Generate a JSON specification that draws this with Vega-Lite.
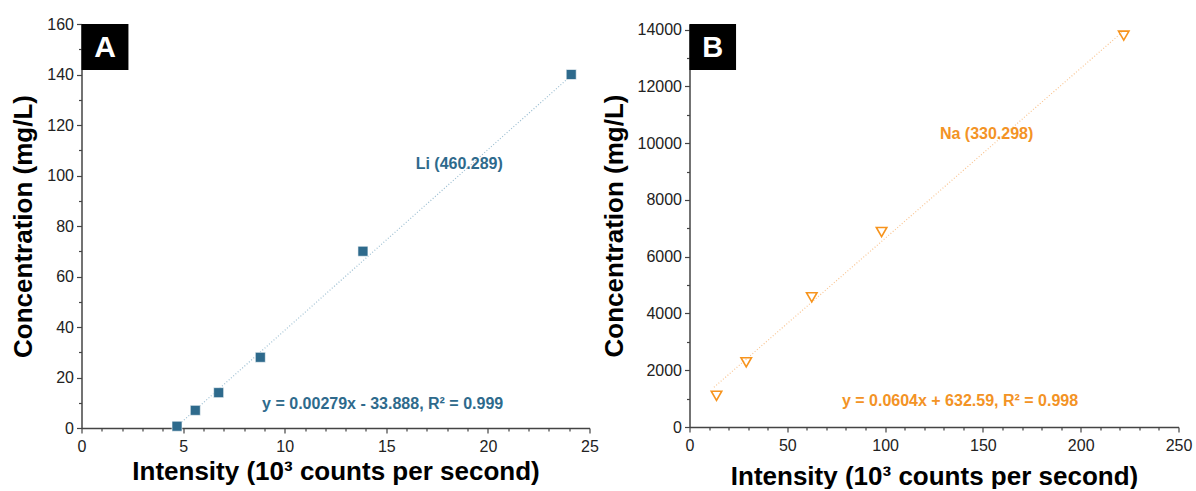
{
  "$schema": "https://vega.github.io/schema/vega-lite/v6.json",
  "background": "white",
  "padding": {"left": 10.5, "top": 16, "right": 0, "bottom": 0},
  "bounds": "flush",
  "spacing": 100,
  "datasets": {
    "pointsA": [{"x": 4.7, "y": 0.7}, {"x": 5.6, "y": 7}, {"x": 6.75, "y": 14}, {"x": 8.8, "y": 28}, {"x": 13.85, "y": 70}, {"x": 24.1, "y": 140}],
    "fitA": [{"x": 4.6, "y": 0}, {"x": 24.1, "y": 139.6}],
    "pointsB": [{"x": 13.8, "y": 1100}, {"x": 29, "y": 2280}, {"x": 62.5, "y": 4570}, {"x": 98.2, "y": 6870}, {"x": 222, "y": 13790}],
    "fitB": [{"x": 12.5, "y": 1400}, {"x": 221, "y": 13900}],
    "one": [{}]
  },
  "config": {
    "view": {"stroke": null},
    "axis": {
      "labelFont": "Liberation Sans", "labelFontSize": 16, "labelColor": "#222222",
      "titleFont": "Liberation Sans", "titleFontSize": 26, "titleFontWeight": "bold", "titleColor": "#000000",
      "domainColor": "#444444", "domainWidth": 1.5, "tickColor": "#444444", "tickWidth": 1.2, "grid": false
    }
  },
  "hconcat": [
    {
      "width": 508, "height": 404,
      "resolve": {"axis": {"x": "independent", "y": "independent"}},
      "layer": [
        {
          "data": {"name": "fitA"},
          "mark": {"type": "line", "color": "#9dbfd2", "strokeWidth": 1.2, "strokeDash": [1, 2]},
          "encoding": {
            "x": {"field": "x", "type": "quantitative", "scale": {"domain": [0, 25], "nice": false, "zero": false},
              "axis": {"orient": "bottom", "values": [0, 5, 10, 15, 20, 25], "format": "d", "tickSize": 5, "labelPadding": 5, "title": "Intensity (10³ counts per second)", "titlePadding": 4, "labelFlush": false}},
            "y": {"field": "y", "type": "quantitative", "scale": {"domain": [0, 160], "nice": false, "zero": false},
              "axis": {"orient": "left", "values": [0, 20, 40, 60, 80, 100, 120, 140, 160], "format": "d", "tickSize": 5, "labelPadding": 3, "title": "Concentration (mg/L)", "titlePadding": 10, "labelFlush": false}}
          }
        },
        {
          "data": {"name": "pointsA"},
          "mark": {"type": "square", "size": 100, "color": "#2e6a8c", "opacity": 1, "stroke": "#ffffff", "strokeWidth": 0.6},
          "encoding": {
            "x": {"field": "x", "type": "quantitative",
              "axis": {"orient": "bottom", "values": [1, 2, 3, 4, 6, 7, 8, 9, 11, 12, 13, 14, 16, 17, 18, 19, 21, 22, 23, 24], "tickSize": 3, "labels": false, "domain": false, "title": null}},
            "y": {"field": "y", "type": "quantitative",
              "axis": {"orient": "left", "values": [10, 30, 50, 70, 90, 110, 130, 150], "tickSize": 3, "labels": false, "domain": false, "title": null}}
          }
        },
        {
          "data": {"name": "one"},
          "mark": {"type": "rect", "color": "#000000"},
          "encoding": {
            "x": {"datum": 0, "type": "quantitative", "axis": null},
            "x2": {"datum": 2.31},
            "y": {"datum": 160, "type": "quantitative", "axis": null},
            "y2": {"datum": 141.8}
          }
        },
        {
          "data": {"name": "one"},
          "mark": {"type": "text", "text": "A", "color": "#ffffff", "font": "Liberation Sans", "fontWeight": "bold", "fontSize": 30, "align": "center", "baseline": "middle", "dy": 1},
          "encoding": {
            "x": {"datum": 1.155, "type": "quantitative", "axis": null},
            "y": {"datum": 150.9, "type": "quantitative", "axis": null}
          }
        },
        {
          "data": {"name": "one"},
          "mark": {"type": "text", "text": "Li (460.289)", "color": "#2e6a8c", "font": "Liberation Sans", "fontWeight": "bold", "fontSize": 16, "align": "center", "baseline": "middle"},
          "encoding": {
            "x": {"datum": 18.59, "type": "quantitative", "axis": null},
            "y": {"datum": 104.7, "type": "quantitative", "axis": null}
          }
        },
        {
          "data": {"name": "one"},
          "mark": {"type": "text", "text": "y = 0.00279x - 33.888, R² = 0.999", "color": "#2e6a8c", "font": "Liberation Sans", "fontWeight": "bold", "fontSize": 16, "align": "center", "baseline": "middle"},
          "encoding": {
            "x": {"datum": 14.82, "type": "quantitative", "axis": null},
            "y": {"datum": 9.6, "type": "quantitative", "axis": null}
          }
        }
      ]
    },
    {
      "width": 489, "height": 403,
      "resolve": {"axis": {"x": "independent", "y": "independent"}},
      "layer": [
        {
          "data": {"name": "fitB"},
          "mark": {"type": "line", "color": "#f9c593", "strokeWidth": 1.2, "strokeDash": [1, 2]},
          "encoding": {
            "x": {"field": "x", "type": "quantitative", "scale": {"domain": [0, 250], "nice": false, "zero": false},
              "axis": {"orient": "bottom", "values": [0, 50, 100, 150, 200, 250], "format": "d", "tickSize": 5, "labelPadding": 5, "title": "Intensity (10³ counts per second)", "titlePadding": 10, "labelFlush": false}},
            "y": {"field": "y", "type": "quantitative", "scale": {"domain": [0, 14200], "nice": false, "zero": false},
              "axis": {"orient": "left", "values": [0, 2000, 4000, 6000, 8000, 10000, 12000, 14000], "format": "d", "tickSize": 5, "labelPadding": 3, "title": "Concentration (mg/L)", "titlePadding": 10, "labelFlush": false}}
          }
        },
        {
          "data": {"name": "pointsB"},
          "mark": {"type": "point", "shape": "triangle-down", "size": 110, "filled": false, "color": "#f7941d", "strokeWidth": 1.6, "opacity": 1},
          "encoding": {
            "x": {"field": "x", "type": "quantitative",
              "axis": {"orient": "bottom", "values": [10, 20, 30, 40, 60, 70, 80, 90, 110, 120, 130, 140, 160, 170, 180, 190, 210, 220, 230, 240], "tickSize": 3, "labels": false, "domain": false, "title": null}},
            "y": {"field": "y", "type": "quantitative",
              "axis": {"orient": "left", "values": [1000, 3000, 5000, 7000, 9000, 11000, 13000], "tickSize": 3, "labels": false, "domain": false, "title": null}}
          }
        },
        {
          "data": {"name": "one"},
          "mark": {"type": "rect", "color": "#000000"},
          "encoding": {
            "x": {"datum": 0, "type": "quantitative", "axis": null},
            "x2": {"datum": 23.8},
            "y": {"datum": 14200, "type": "quantitative", "axis": null},
            "y2": {"datum": 12579}
          }
        },
        {
          "data": {"name": "one"},
          "mark": {"type": "text", "text": "B", "color": "#ffffff", "font": "Liberation Sans", "fontWeight": "bold", "fontSize": 29, "align": "center", "baseline": "middle", "dy": 1},
          "encoding": {
            "x": {"datum": 11.9, "type": "quantitative", "axis": null},
            "y": {"datum": 13390, "type": "quantitative", "axis": null}
          }
        },
        {
          "data": {"name": "one"},
          "mark": {"type": "text", "text": "Na (330.298)", "color": "#f39325", "font": "Liberation Sans", "fontWeight": "bold", "fontSize": 16, "align": "center", "baseline": "middle"},
          "encoding": {
            "x": {"datum": 151.9, "type": "quantitative", "axis": null},
            "y": {"datum": 10330, "type": "quantitative", "axis": null}
          }
        },
        {
          "data": {"name": "one"},
          "mark": {"type": "text", "text": "y = 0.0604x + 632.59, R² = 0.998", "color": "#f39325", "font": "Liberation Sans", "fontWeight": "bold", "fontSize": 16, "align": "center", "baseline": "middle"},
          "encoding": {
            "x": {"datum": 138.3, "type": "quantitative", "axis": null},
            "y": {"datum": 900, "type": "quantitative", "axis": null}
          }
        }
      ]
    }
  ]
}
